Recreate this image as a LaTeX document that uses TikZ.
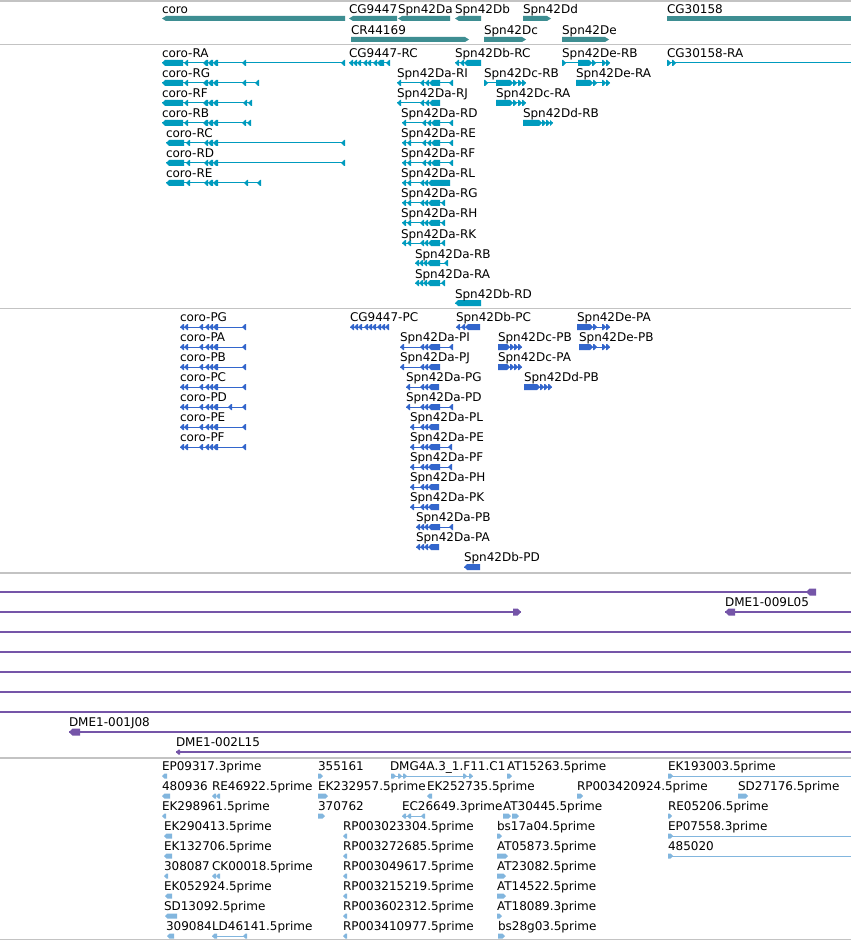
\documentclass[tikz,border=0pt]{standalone}
\usepackage{fontspec}
\setmainfont{DejaVu Sans}
\definecolor{gene}{RGB}{62,142,146}
\definecolor{tx}{RGB}{0,155,190}
\definecolor{prot}{RGB}{51,102,204}
\definecolor{clone}{RGB}{117,85,168}
\definecolor{est}{RGB}{130,182,222}
\definecolor{sep}{RGB}{195,195,195}
\newcounter{labc}
% left-pointing exon: a, b, y, halfheight
\newcommand\myexL[4]{\fill (#1,#3) -- (#1+#4,#3-#4) -- (#2,#3-#4) -- (#2,#3+#4) -- (#1+#4,#3+#4) -- cycle;}
\newcommand\myexR[4]{\fill (#2,#3) -- (#2-#4,#3-#4) -- (#1,#3-#4) -- (#1,#3+#4) -- (#2-#4,#3+#4) -- cycle;}
% transcripts: y, x1, x2, exon list
\newcommand\mytrL[4]{\draw[line width=1pt] (#2,#1) -- (#3,#1); \foreach \a/\b in {#4}{\myexL{\a}{\b}{#1}{3}}}
\newcommand\mytrR[4]{\draw[line width=1pt] (#2,#1) -- (#3,#1); \foreach \a/\b in {#4}{\myexR{\a}{\b}{#1}{3}}}
\newcommand\myesL[4]{\draw[line width=0.9pt] (#2,#1) -- (#3,#1); \foreach \a/\b in {#4}{\myexL{\a}{\b}{#1}{2.5}}}
\newcommand\myesR[4]{\draw[line width=0.9pt] (#2,#1) -- (#3,#1); \foreach \a/\b in {#4}{\myexR{\a}{\b}{#1}{2.5}}}
% gene bars
\newcommand\mygnL[3]{\fill (#1,#3) -- (#1+4,#3-2.5) -- (#2,#3-2.5) -- (#2,#3+2.5) -- (#1+4,#3+2.5) -- cycle;}
\newcommand\mygnR[3]{\fill (#2,#3) -- (#2-4,#3-2.5) -- (#1,#3-2.5) -- (#1,#3+2.5) -- (#2-4,#3+2.5) -- cycle;}
% label: x, baseline y, text
\newcommand\mylab[3]{\stepcounter{labc}\node[lbl] (t\arabic{labc}) at (#1,#2) {#3};}
\begin{document}
\begin{tikzpicture}[x=1pt,y=-1pt,
  lbl/.style={anchor=base west,inner sep=0pt,outer sep=0pt,text=black,font=\fontsize{12}{14}\selectfont},
  sepline/.style={draw=sep,line width=1.5pt}]
\useasboundingbox (0,0) rectangle (851,941);
\fill[white] (0,0) rectangle (851,941);
% separators
\foreach \yy in {1,44.5,308.5,573,758,939.5}{\draw[sepline] (0,\yy) -- (851,\yy);}

% ---------------- genes
\begin{scope}[color=gene]
\mygnL{162}{345}{18.5}
\mygnL{349}{397}{18.5}
\mygnL{398}{450}{18.5}
\mygnL{455}{481}{18.5}
\mygnR{523}{551}{18.5}
\fill (667,16) rectangle (851,21);
\mygnR{351}{469}{39.5}
\mygnR{484}{526}{39.5}
\mygnR{562}{609}{39.5}
\end{scope}
\mylab{162}{13.5}{coro}
\mylab{349}{13.5}{CG9447}
\mylab{398}{13.5}{Spn42Da}
\mylab{455}{13.5}{Spn42Db}
\mylab{523}{13.5}{Spn42Dd}
\mylab{667}{13.5}{CG30158}
\mylab{351}{34.5}{CR44169}
\mylab{484}{34.5}{Spn42Dc}
\mylab{562}{34.5}{Spn42De}

% ---------------- transcripts
\begin{scope}[color=tx]
\mytrL{63}{162}{345}{162/183,184/188,203/208,208/213,213/218,242/246,341/345}
\mytrL{83}{162}{259}{162/183,184/188,203/208,208/213,213/218,242/246,255/259}
\mytrL{103}{162}{252}{162/183,184/188,203/208,208/213,213/218,243/247,248/252}
\mytrL{123}{162}{251}{162/183,184/188,203/208,208/213,213/218,242/246,247/251}
\mytrL{143}{166}{345}{166/184,186/190,204/208,208/213,213/218,341/345}
\mytrL{163}{166}{345}{166/184,186/190,204/208,208/213,213/218,341/345}
\mytrL{183}{166}{261}{166/184,186/190,204/208,208/213,213/218,244/248,257/261}
\mytrL{63}{349}{390}{349/353,353/357,357/361,363/367,367/371,373/377,377/384,386/390}
\mytrL{63}{455}{481}{455/459,460/464,464/481}
\mytrL{83}{397}{453}{397/401,420/424,425/429,429/440,449/453}
\mytrL{103}{397}{440}{397/401,420/424,425/429,429/440}
\mytrL{123}{402}{453}{402/406,422/426,427/431,431/440,449/453}
\mytrL{143}{402}{453}{402/406,407/411,422/426,427/431,431/440,449/453}
\mytrL{163}{402}{453}{402/406,407/411,422/426,427/431,431/440,449/453}
\mytrL{183}{402}{450}{402/406,407/411,420/424,424/428,428/450}
\mytrL{203}{402}{445}{402/406,407/411,420/424,424/428,428/440,441/445}
\mytrL{223}{402}{445}{402/406,407/411,420/424,424/428,428/440,441/445}
\mytrL{243}{402}{445}{402/406,407/411,420/424,424/428,428/440,441/445}
\mytrL{263}{415}{448}{415/419,419/423,423/427,427/440,444/448}
\mytrL{283}{415}{445}{415/419,419/423,423/427,427/440,441/445}
\mytrL{303}{455}{481}{455/481}
\mytrR{63}{562}{610}{562/566,578/592,592/596,602/606,606/610}
\mytrR{63}{667}{851}{667/671,672/676}
\mytrR{83}{484}{526}{484/488,496/513,513/517,518/522,522/526}
\mytrR{83}{576}{610}{576/593,593/597,602/606,606/610}
\mytrR{103}{496}{526}{496/513,513/517,518/522,522/526}
\mytrR{123}{523}{553}{523/542,542/546,546/550,550/553}
\end{scope}
\mylab{162}{58}{coro-RA}
\mylab{349}{58}{CG9447-RC}
\mylab{455}{58}{Spn42Db-RC}
\mylab{562}{58}{Spn42De-RB}
\mylab{667}{58}{CG30158-RA}
\mylab{162}{78}{coro-RG}
\mylab{397}{78}{Spn42Da-RI}
\mylab{484}{78}{Spn42Dc-RB}
\mylab{576}{78}{Spn42De-RA}
\mylab{162}{98}{coro-RF}
\mylab{397}{98}{Spn42Da-RJ}
\mylab{496}{98}{Spn42Dc-RA}
\mylab{162}{118}{coro-RB}
\mylab{401}{118}{Spn42Da-RD}
\mylab{523}{118}{Spn42Dd-RB}
\mylab{166}{138}{coro-RC}
\mylab{401}{138}{Spn42Da-RE}
\mylab{166}{158}{coro-RD}
\mylab{401}{158}{Spn42Da-RF}
\mylab{166}{178}{coro-RE}
\mylab{401}{178}{Spn42Da-RL}
\mylab{401}{198}{Spn42Da-RG}
\mylab{401}{218}{Spn42Da-RH}
\mylab{401}{238}{Spn42Da-RK}
\mylab{415}{258}{Spn42Da-RB}
\mylab{415}{278}{Spn42Da-RA}
\mylab{455}{298}{Spn42Db-RD}

% ---------------- proteins
\begin{scope}[color=prot]
\foreach \yy in {327,347,367,387,427,447}{\mytrL{\yy}{180}{246}{180/184,184/188,199/203,205/209,209/213,213/218,242/246}}
\mytrL{407}{180}{246}{180/184,184/188,199/203,205/209,209/213,213/218,228/232,242/246}
\mytrL{327}{350}{389}{350/354,354/358,358/362,364/368,368/372,372/376,377/381,381/385,385/389}
\mytrL{327}{456}{480}{456/460,461/465,465/480}
\mytrL{347}{400}{453}{400/404,420/424,424/428,428/440,449/453}
\mytrL{367}{400}{440}{400/404,420/424,424/428,428/440}
\mytrL{387}{406}{439}{406/410,420/424,424/428,428/439}
\mytrL{407}{406}{453}{406/410,420/424,424/428,428/440,449/453}
\mytrL{427}{410}{439}{410/414,420/424,424/428,428/439}
\mytrL{447}{410}{452}{410/414,420/424,424/428,428/440,448/452}
\mytrL{467}{410}{452}{410/414,420/424,424/428,428/440,448/452}
\mytrL{487}{410}{439}{410/414,420/424,424/428,428/439}
\mytrL{507}{410}{439}{410/414,420/424,424/428,428/439}
\mytrL{527}{416}{453}{416/420,420/424,424/428,428/440,449/453}
\mytrL{547}{416}{439}{416/420,420/424,424/428,428/439}
\mytrL{567}{464}{480}{464/480}
\mytrR{327}{577}{610}{577/593,593/597,602/606,606/610}
\mytrR{347}{579}{610}{579/593,593/597,602/606,606/610}
\mytrR{347}{498}{522}{498/510,510/514,514/518,518/522}
\mytrR{367}{498}{522}{498/510,510/514,514/518,518/522}
\mytrR{387}{524}{552}{524/540,540/544,544/548,548/552}
\end{scope}
\mylab{180}{321.5}{coro-PG}
\mylab{350}{321.5}{CG9447-PC}
\mylab{456}{321.5}{Spn42Db-PC}
\mylab{577}{321.5}{Spn42De-PA}
\mylab{180}{341.5}{coro-PA}
\mylab{400}{341.5}{Spn42Da-PI}
\mylab{498}{341.5}{Spn42Dc-PB}
\mylab{579}{341.5}{Spn42De-PB}
\mylab{180}{361.5}{coro-PB}
\mylab{400}{361.5}{Spn42Da-PJ}
\mylab{498}{361.5}{Spn42Dc-PA}
\mylab{180}{381.5}{coro-PC}
\mylab{406}{381.5}{Spn42Da-PG}
\mylab{524}{381.5}{Spn42Dd-PB}
\mylab{180}{401.5}{coro-PD}
\mylab{406}{401.5}{Spn42Da-PD}
\mylab{180}{421.5}{coro-PE}
\mylab{410}{421.5}{Spn42Da-PL}
\mylab{180}{441.5}{coro-PF}
\mylab{410}{441.5}{Spn42Da-PE}
\mylab{410}{461.5}{Spn42Da-PF}
\mylab{410}{481.5}{Spn42Da-PH}
\mylab{410}{501.5}{Spn42Da-PK}
\mylab{416}{521.5}{Spn42Da-PB}
\mylab{416}{541.5}{Spn42Da-PA}
\mylab{464}{561.5}{Spn42Db-PD}

% ---------------- clones
\begin{scope}[color=clone,line width=1.2pt]
\draw (0,592) -- (816,592); \myexL{806}{816}{592}{3.5}
\draw (0,612) -- (521,612); \myexR{513}{521}{612}{3.5}
\draw (725,612) -- (851,612); \myexL{725}{735}{612}{3.5}
\foreach \yy in {632,652,672,692,712}{\draw (0,\yy) -- (851,\yy);}
\draw (69,732) -- (851,732); \myexL{69}{80}{732}{3.5}
\draw (176,752) -- (851,752); \myexL{176}{180}{752}{2.5}
\end{scope}
\mylab{725}{606}{DME1-009L05}
\mylab{69}{726.5}{DME1-001J08}
\mylab{176}{746.5}{DME1-002L15}

% ---------------- ESTs
\begin{scope}[color=est]
\myexL{162}{167}{776}{2.5}
\myexR{318}{323}{776}{2.5}
\myesR{776}{391}{473}{391/396,398/402,403/407,463/467,469/473}
\myexR{507}{512}{776}{2.5}
\myesR{776}{668}{851}{668/673}
\myexL{162}{170}{796}{2.5}
\myexL{212}{216}{796}{2.5}\myexL{216}{220}{796}{2.5}
\myexR{318}{328}{796}{2.5}
\myexL{427}{432}{796}{2.5}
\myexR{577}{583}{796}{2.5}
\myexR{738}{748}{796}{2.5}
\myexL{162}{166}{816}{2.5}
\myexR{318}{325}{816}{2.5}
\myesL{816}{402}{425}{402/406,407/411,421/425}
\myexR{503}{511}{816}{2.5}\myexR{512}{519}{816}{2.5}
\myexR{668}{672}{816}{2.5}
\myexL{164}{172}{836}{2.5}
\myexL{343}{347}{836}{2.5}
\myexR{497}{502}{836}{2.5}
\myesR{836}{668}{851}{668/673}
\myexL{164}{172}{856}{2.5}
\myexL{343}{347}{856}{2.5}
\myexR{497}{508}{856}{2.5}
\myesR{856}{668}{851}{668/673}
\myexL{164}{168}{876}{2.5}
\myexL{212}{216}{876}{2.5}\myexL{216}{220}{876}{2.5}
\myexL{343}{347}{876}{2.5}
\myexR{497}{506}{876}{2.5}
\myexL{165}{172}{896}{2.5}
\myexL{343}{347}{896}{2.5}
\myexR{497}{506}{896}{2.5}
\myexL{165}{177}{916}{2.5}
\myexL{343}{347}{916}{2.5}
\myexR{497}{502}{916}{2.5}
\myexL{167}{174}{936}{2.5}
\myesL{936}{212}{247}{212/217,243/247}
\myexL{343}{347}{936}{2.5}
\myexR{498}{505}{936}{2.5}
\end{scope}
\mylab{162}{770}{EP09317.3prime}
\mylab{318}{770}{355161}
\mylab{390}{770}{DMG4A.3\_1.F11.C1}
\mylab{507}{770}{AT15263.5prime}
\mylab{668}{770}{EK193003.5prime}
\mylab{162}{790}{480936}
\mylab{212}{790}{RE46922.5prime}
\mylab{318}{790}{EK232957.5prime}
\mylab{427}{790}{EK252735.5prime}
\mylab{577}{790}{RP003420924.5prime}
\mylab{738}{790}{SD27176.5prime}
\mylab{162}{810}{EK298961.5prime}
\mylab{318}{810}{370762}
\mylab{402}{810}{EC26649.3prime}
\mylab{503}{810}{AT30445.5prime}
\mylab{668}{810}{RE05206.5prime}
\mylab{164}{830}{EK290413.5prime}
\mylab{343}{830}{RP003023304.5prime}
\mylab{497}{830}{bs17a04.5prime}
\mylab{668}{830}{EP07558.3prime}
\mylab{164}{850}{EK132706.5prime}
\mylab{343}{850}{RP003272685.5prime}
\mylab{497}{850}{AT05873.5prime}
\mylab{668}{850}{485020}
\mylab{164}{870}{308087}
\mylab{212}{870}{CK00018.5prime}
\mylab{343}{870}{RP003049617.5prime}
\mylab{497}{870}{AT23082.5prime}
\mylab{164}{890}{EK052924.5prime}
\mylab{343}{890}{RP003215219.5prime}
\mylab{497}{890}{AT14522.5prime}
\mylab{164}{910}{SD13092.5prime}
\mylab{343}{910}{RP003602312.5prime}
\mylab{497}{910}{AT18089.3prime}
\mylab{166}{930}{309084}
\mylab{212}{930}{LD46141.5prime}
\mylab{343}{930}{RP003410977.5prime}
\mylab{498}{930}{bs28g03.5prime}
\end{tikzpicture}
\end{document}
